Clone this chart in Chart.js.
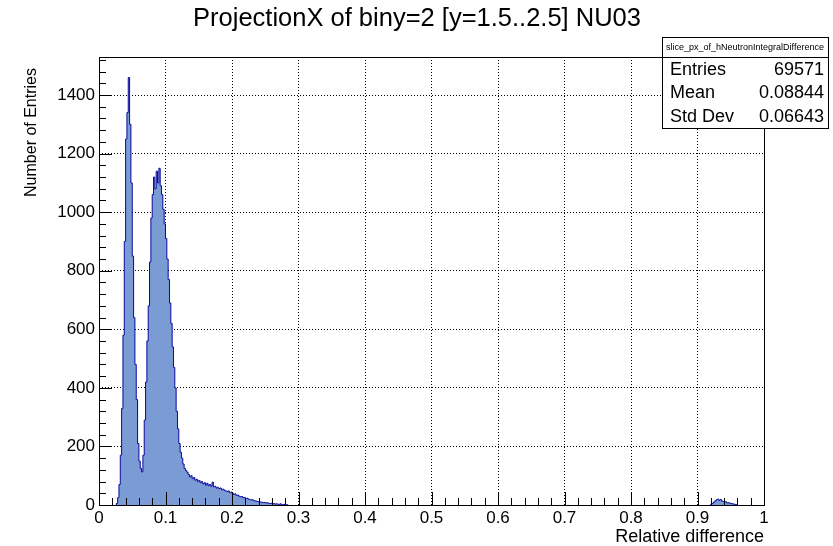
<!DOCTYPE html>
<html>
<head>
<meta charset="utf-8">
<script src="https://cdn.jsdelivr.net/npm/chart.js@4.4.1/dist/chart.umd.min.js"></script>
<style>
  html, body { margin: 0; padding: 0; background: #fff; }
  #wrap { width: 833px; height: 546px; position: relative; }
</style>
</head>
<body>
<div id="wrap"><canvas id="c"></canvas></div>
<script>
// histogram slice, bin width 0.002
const binWidth = 0.002;
const mainStart = 0.026;
const mainCounts = [
  5, 25, 70, 170, 330, 580, 900, 1250, 1340, 1460,
  1300, 1100, 850, 640, 480, 360, 210, 150, 125, 113,
  170, 290, 420, 560, 680, 830, 980, 1060, 1120, 1080,
  1140, 1100, 1150, 1090, 1060, 1010, 960, 910, 840, 770,
  690, 620, 540, 470, 400, 320, 260, 210, 180, 160,
  140, 125, 118, 112, 104, 96, 100, 90, 94, 85,
  88, 80, 84, 76, 80, 72, 76, 68, 74, 66,
  70, 64, 78, 62, 64, 58, 60, 56, 58, 52,
  54, 50, 48, 46, 48, 42, 44, 40, 36, 38,
  33, 34, 30, 28, 29, 25, 26, 22, 23, 20,
  19, 17, 18, 15, 14, 13, 12, 11, 10, 10,
  8, 9, 7, 8, 6, 5, 6, 4, 5, 3,
  4, 3, 2, 4, 2, 1, 2, 1, 1
];
const bumpStart = 0.920;
const bumpCounts = [3, 6, 10, 14, 18, 20, 16, 19, 14, 12, 10, 11, 7, 8, 5, 6, 4, 3, 2, 1];

const xTickValues = [0, 0.1, 0.2, 0.3, 0.4, 0.5, 0.6, 0.7, 0.8, 0.9, 1];
const yTickValues = [0, 200, 400, 600, 800, 1000, 1200, 1400];
const yMax = 1530;

const titleText = 'ProjectionX of biny=2 [y=1.5..2.5] NU03';
const yTitle = 'Number of Entries';
const xTitle = 'Relative difference';
const statsName = 'slice_px_of_hNeutronIntegralDifference';
const statsLabels = ['Entries', 'Mean', 'Std Dev'];
const statsValues = ['69571', '0.08844', '0.06643'];

const FONT = "'Liberation Sans', Arial, Helvetica, sans-serif";

// turn bin counts into step points (low edge of each bin)
function toSteps(start, counts) {
  const pts = [{ x: start, y: 0 }];
  counts.forEach((c, i) => pts.push({ x: +(start + i * binWidth).toFixed(4), y: c }));
  pts.push({ x: +(start + counts.length * binWidth).toFixed(4), y: 0 });
  return pts;
}

const histStyle = {
  stepped: true,
  fill: 'origin',
  backgroundColor: '#7b9bd4',
  borderColor: '#0a0a9a',
  borderWidth: 1,
  pointRadius: 0,
  tension: 0
};

// ROOT-like frame, inward ticks, titles and stats box
const rootDecor = {
  id: 'rootDecor',
  afterDatasetsDraw(chart) {
    const { ctx, chartArea: a, scales: { x, y } } = chart;
    const px = v => Math.round(v) + 0.5;
    ctx.save();
    ctx.strokeStyle = '#000';
    ctx.lineWidth = 1;
    ctx.beginPath();
    for (let i = 0; i <= 50; i++) {
      const xp = px(x.getPixelForValue(i * 0.02));
      const len = i % 5 === 0 ? 13 : 7;
      ctx.moveTo(xp, a.bottom);
      ctx.lineTo(xp, a.bottom - len);
    }
    for (let i = 0; i * 40 <= yMax; i++) {
      const yp = px(y.getPixelForValue(i * 40));
      const len = i % 5 === 0 ? 13 : 7;
      ctx.moveTo(a.left, yp);
      ctx.lineTo(a.left + len, yp);
    }
    ctx.stroke();
    ctx.strokeRect(px(a.left), px(a.top), Math.round(a.right - a.left), Math.round(a.bottom - a.top));
    ctx.restore();
  },
  afterDraw(chart) {
    const { ctx, chartArea: a } = chart;
    ctx.save();
    ctx.fillStyle = '#000';
    ctx.textBaseline = 'middle';

    // main title
    ctx.font = '25.5px ' + FONT;
    ctx.textAlign = 'center';
    ctx.fillText(titleText, 417, 19);

    // y axis title, right-aligned near the top of the frame
    ctx.save();
    ctx.translate(32, a.top + 11);
    ctx.rotate(-Math.PI / 2);
    ctx.font = '16px ' + FONT;
    ctx.textAlign = 'right';
    ctx.fillText(yTitle, 0, 0);
    ctx.restore();

    // stats box
    const bx = 662, by = 37, bw = 166, bh = 91, head = 20;
    ctx.fillStyle = '#fff';
    ctx.fillRect(bx, by, bw, bh);
    ctx.strokeStyle = '#000';
    ctx.lineWidth = 1;
    ctx.strokeRect(bx + 0.5, by + 0.5, bw, bh);
    ctx.beginPath();
    ctx.moveTo(bx, by + head + 0.5);
    ctx.lineTo(bx + bw, by + head + 0.5);
    ctx.stroke();
    ctx.fillStyle = '#000';
    ctx.font = '9px ' + FONT;
    ctx.textAlign = 'center';
    ctx.fillText(statsName, bx + bw / 2, by + head / 2 + 1);
    ctx.font = '18px ' + FONT;
    const rowH = (bh - head) / 3;
    statsLabels.forEach((lab, i) => {
      const cy = by + head + rowH * (i + 0.5) + 1;
      ctx.textAlign = 'left';
      ctx.fillText(lab, bx + 8, cy);
      ctx.textAlign = 'right';
      ctx.fillText(statsValues[i], bx + bw - 4, cy);
    });
    ctx.restore();
  }
};

new Chart(document.getElementById('c'), {
  type: 'line',
  data: {
    datasets: [
      Object.assign({ label: 'main', data: toSteps(mainStart, mainCounts) }, histStyle),
      Object.assign({ label: 'bump', data: toSteps(bumpStart, bumpCounts) }, histStyle)
    ]
  },
  options: {
    responsive: true,
    maintainAspectRatio: false,
    animation: false,
    layout: { padding: { left: 0, right: 69, top: 57, bottom: 0 } },
    plugins: {
      legend: { display: false },
      tooltip: { enabled: false },
      title: { display: false }
    },
    scales: {
      x: {
        type: 'linear',
        min: 0,
        max: 1,
        afterBuildTicks: s => { s.ticks = xTickValues.map(v => ({ value: v })); },
        afterFit: s => { s.height = 41; },
        ticks: {
          color: '#000',
          font: { family: FONT, size: 17 },
          padding: 3,
          maxRotation: 0,
          autoSkip: false,
          callback: v => String(+v.toFixed(1))
        },
        grid: { color: '#000', lineWidth: 1, drawTicks: false },
        border: { display: false, dash: [1, 2] },
        title: {
          display: true,
          text: xTitle,
          align: 'end',
          color: '#000',
          font: { family: FONT, size: 18, lineHeight: 1 },
          padding: { top: 0, bottom: 0 }
        }
      },
      y: {
        min: 0,
        max: yMax,
        afterBuildTicks: s => { s.ticks = yTickValues.map(v => ({ value: v })); },
        afterFit: s => { s.width = 99; },
        ticks: {
          color: '#000',
          font: { family: FONT, size: 17 },
          padding: 4,
          autoSkip: false,
          callback: v => String(v)
        },
        grid: { color: '#000', lineWidth: 1, drawTicks: false },
        border: { display: false, dash: [1, 2] },
        title: { display: false }
      }
    }
  },
  plugins: [rootDecor]
});
</script>
</body>
</html>
